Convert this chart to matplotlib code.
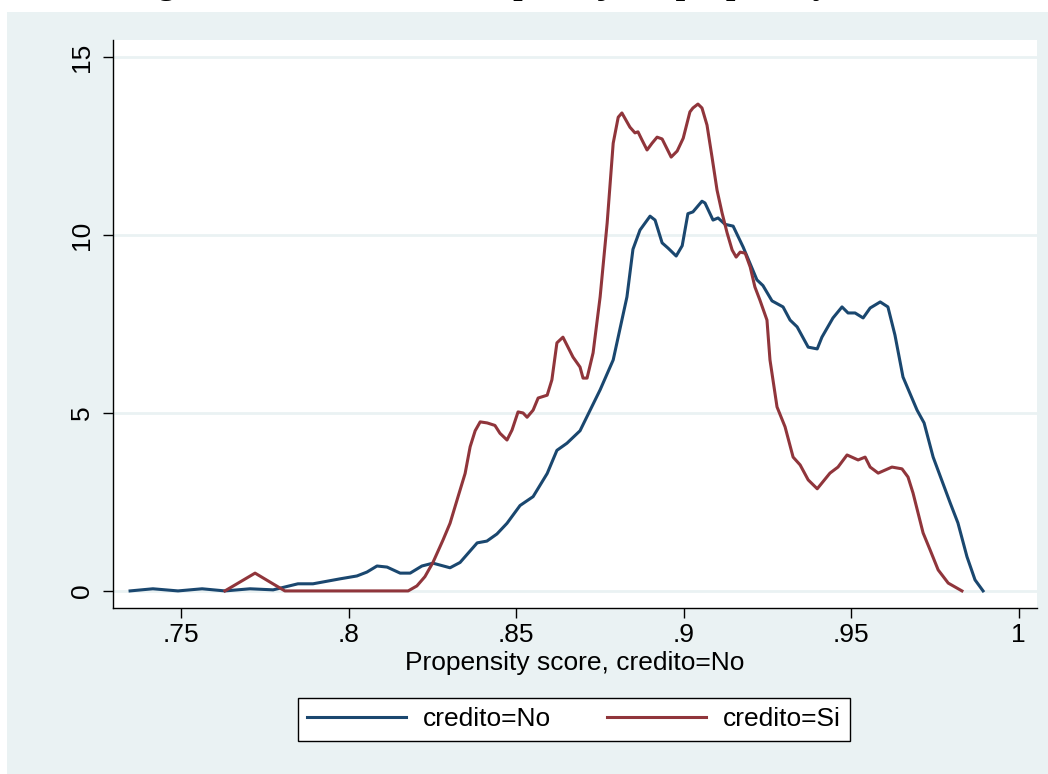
import numpy as np
import matplotlib
matplotlib.use('Agg')
import matplotlib.pyplot as plt
from matplotlib.patches import Rectangle

plt.rcParams['font.family'] = ['Liberation Sans', 'DejaVu Sans']

# ------------------------------------------------------------
# Densidades del propensity score
# ------------------------------------------------------------
x_no = [.7348, .7416, .7491, .7563, .7631, .7706, .7775, .7849, .7894, .7975,
        .8025, .8055, .8085, .8115, .8154, .8184, .8219, .8252, .8303, .8333,
        .8384, .8413, .8443, .8473, .8512, .8551, .8593, .8622, .8652, .8691,
        .8751, .8790, .8831, .8849, .8870, .8900, .8915, .8936, .8954, .8978,
        .8996, .9013, .9028, .9055, .9064, .9088, .9103, .9124, .9148, .9178,
        .9219, .9237, .9264, .9297, .9318, .9339, .9372, .9399, .9413, .9446,
        .9473, .9491, .9512, .9536, .9557, .9587, .9610, .9631, .9655, .9697,
        .9718, .9745, .9796, .9819, .9846, .9870, .9894]
y_no = [0.00, 0.06, 0.00, 0.06, 0.00, 0.06, 0.03, 0.20, 0.20, 0.34,
        0.42, 0.53, 0.70, 0.67, 0.50, 0.50, 0.70, 0.78, 0.65, 0.80,
        1.35, 1.40, 1.60, 1.90, 2.40, 2.65, 3.30, 3.95, 4.15, 4.50,
        5.65, 6.49, 8.26, 9.60, 10.14, 10.53, 10.42, 9.78, 9.63, 9.41,
        9.70, 10.60, 10.65, 10.95, 10.90, 10.42, 10.48, 10.30, 10.25, 9.66,
        8.74, 8.58, 8.15, 7.98, 7.61, 7.42, 6.85, 6.80, 7.13, 7.67,
        7.98, 7.81, 7.81, 7.67, 7.95, 8.12, 7.98, 7.19, 6.01, 5.08,
        4.72, 3.76, 2.47, 1.91, 0.96, 0.31, 0.00]

x_si = [.7631, .7721, .7810, .8178, .8204, .8228, .8252, .8282, .8303, .8327,
        .8348, .8363, .8378, .8393, .8414, .8437, .8452, .8473, .8488, .8506,
        .8521, .8533, .8551, .8566, .8593, .8607, .8622, .8640, .8655, .8670,
        .8691, .8700, .8712, .8730, .8751, .8772, .8790, .8805, .8816, .8840,
        .8855, .8864, .8876, .8891, .8906, .8921, .8936, .8945, .8963, .8981,
        .8999, .9019, .9028, .9043, .9055, .9070, .9085, .9100, .9115, .9130,
        .9145, .9157, .9169, .9184, .9199, .9213, .9228, .9249, .9258, .9279,
        .9303, .9327, .9348, .9372, .9399, .9437, .9461, .9488, .9521, .9542,
        .9557, .9581, .9622, .9652, .9670, .9685, .9715, .9736, .9760, .9790,
        .9831]
y_si = [0.00, 0.50, 0.00, 0.00, 0.14, 0.40, 0.80, 1.43, 1.90, 2.65,
        3.30, 4.05, 4.50, 4.75, 4.72, 4.65, 4.43, 4.24, 4.52, 5.03,
        5.00, 4.88, 5.08, 5.42, 5.50, 5.93, 6.97, 7.13, 6.85, 6.57,
        6.29, 5.98, 5.98, 6.69, 8.26, 10.34, 12.58, 13.31, 13.43, 13.03,
        12.87, 12.90, 12.67, 12.39, 12.58, 12.75, 12.70, 12.53, 12.19, 12.36,
        12.72, 13.46, 13.57, 13.68, 13.57, 13.09, 12.19, 11.26, 10.62, 10.06,
        9.58, 9.38, 9.52, 9.49, 9.10, 8.54, 8.17, 7.61, 6.49, 5.17,
        4.61, 3.76, 3.54, 3.12, 2.87, 3.31, 3.48, 3.82, 3.68, 3.76,
        3.48, 3.31, 3.48, 3.43, 3.20, 2.75, 1.63, 1.15, 0.59, 0.22,
        0.00]

xticks = [.75, .8, .85, .9, .95, 1]
xtick_labels = ['.75', '.8', '.85', '.9', '.95', '1']
yticks = [0, 5, 10, 15]

c_no = '#1a476f'
c_si = '#90353b'
bg = '#eaf2f3'

# ------------------------------------------------------------
# Figura
# ------------------------------------------------------------
fig = plt.figure(figsize=(10.48, 7.74), dpi=100, facecolor='white')
fig.patches.append(Rectangle((7 / 1048, 0), 1, 1 - 12 / 774, transform=fig.transFigure,
                             facecolor=bg, edgecolor='none', zorder=-5))

ax = fig.add_axes([113 / 1048, 1 - 608 / 774, 924 / 1048, 568 / 774])
ax.set_facecolor('white')
ax.plot(x_no, y_no, color=c_no, lw=2.2, label='credito=No', zorder=3)
ax.plot(x_si, y_si, color=c_si, lw=2.2, label='credito=Si', zorder=3)

ax.set_xlim(.7297, 1.0055)
ax.set_ylim(-0.48, 15.48)
ax.set_xticks(xticks)
ax.set_xticklabels(xtick_labels)
ax.set_yticks(yticks)
ax.set_yticklabels([str(v) for v in yticks], rotation=90, va='center')
ax.tick_params(direction='out', length=7, width=1, labelsize=19, pad=4)
ax.tick_params(axis='y', pad=7)
ax.grid(axis='y', color=bg, lw=2, zorder=1)
for s in ['top', 'right']:
    ax.spines[s].set_visible(False)
for s in ['left', 'bottom']:
    ax.spines[s].set_linewidth(1)
ax.set_xlabel('Propensity score, credito=No', fontsize=19, labelpad=3)

leg = fig.legend(loc='center', bbox_to_anchor=(574 / 1048, 1 - 719.5 / 774), ncol=2,
                 fontsize=19, frameon=True, fancybox=False, edgecolor='black',
                 handlelength=3.75, columnspacing=2.1, handletextpad=0.65,
                 borderpad=0.35, borderaxespad=0, framealpha=1)
leg.get_frame().set_linewidth(1)

# titulo recortado en el borde superior, como en la imagen original
fig.text(0.497, 1 + 6 / 774, 'Figura 2: Distribución del puntaje de propensity score',
         ha='center', va='baseline', fontsize=24.5, fontweight='bold',
         family='Liberation Serif')

fig.savefig('out.png', dpi=100, facecolor='white')
